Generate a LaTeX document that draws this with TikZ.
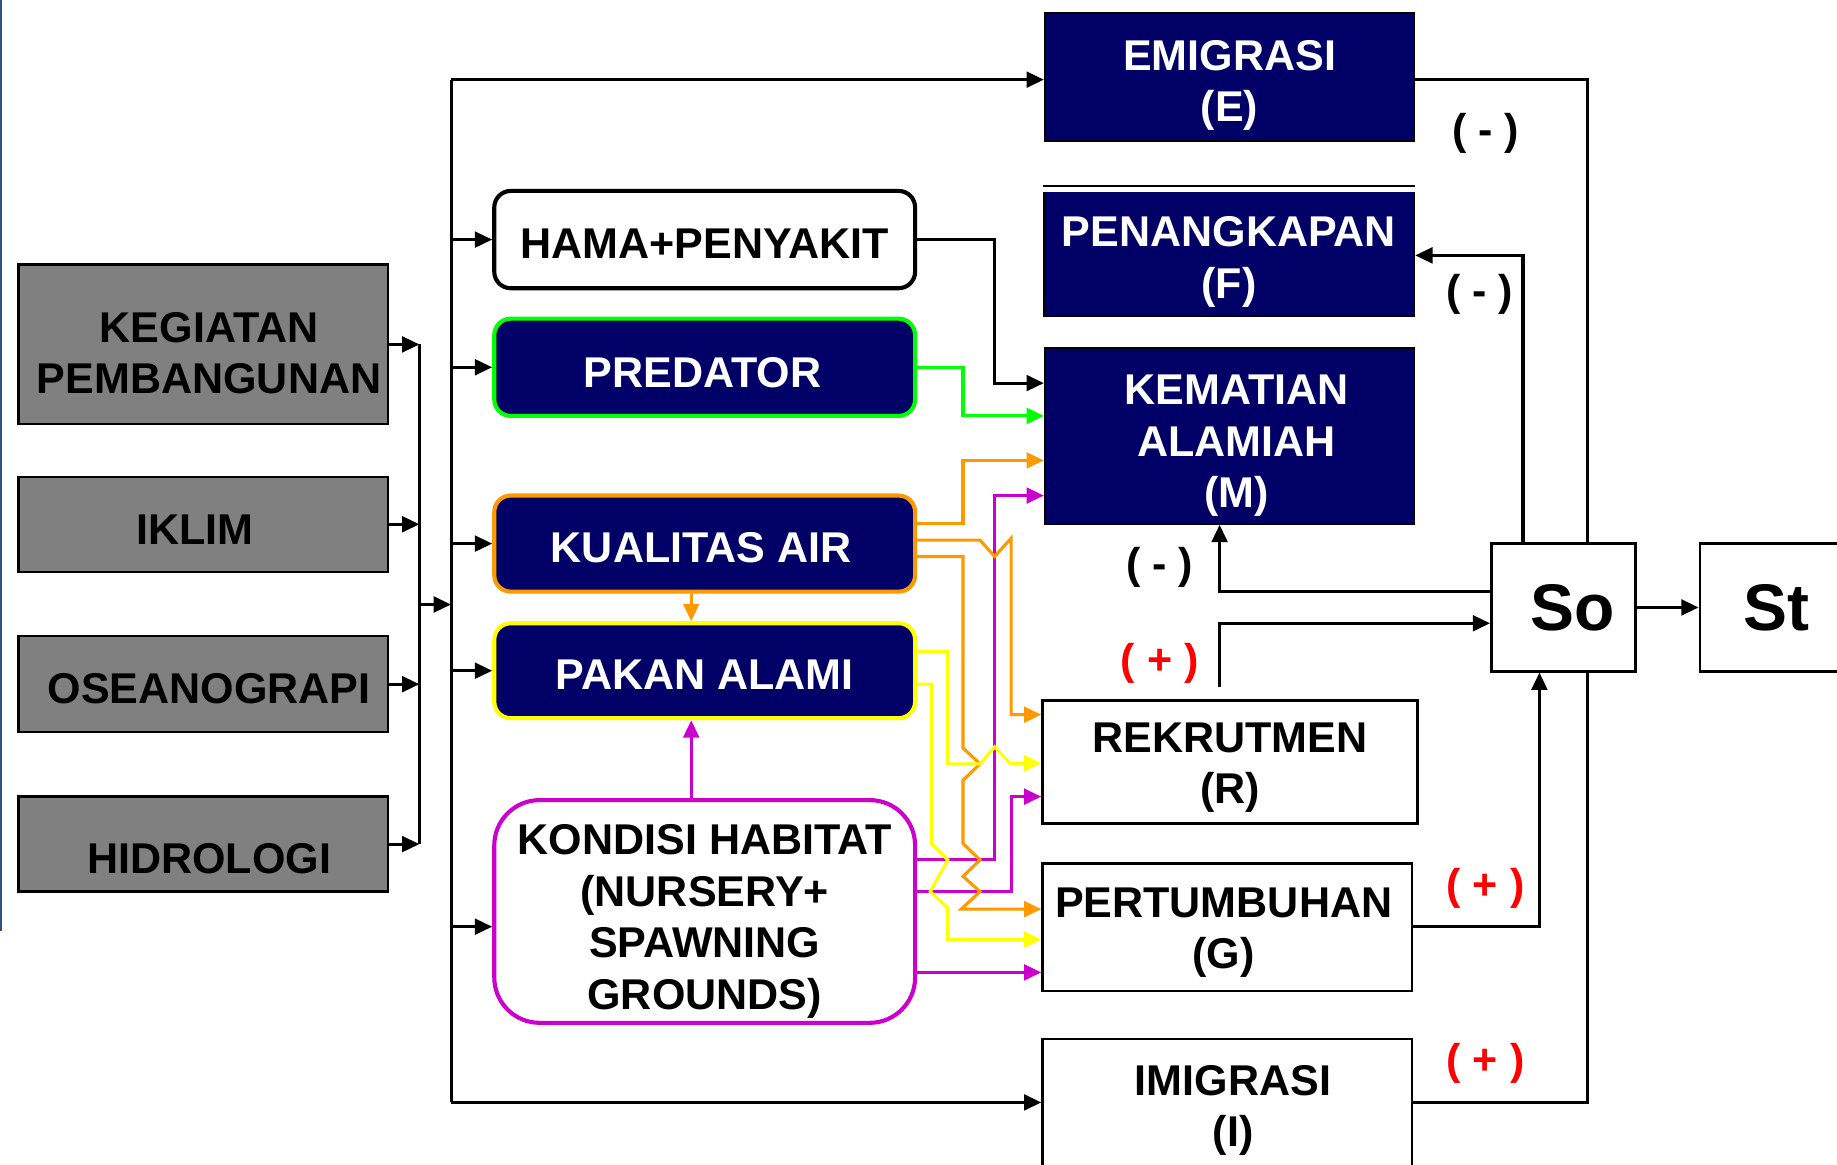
\documentclass[tikz,border=0pt]{standalone}
\usepackage{fontspec}
\setmainfont{Liberation Sans}
\usetikzlibrary{arrows.meta}
\definecolor{navy}{RGB}{0,0,102}
\definecolor{boxgray}{RGB}{128,128,128}
\definecolor{lgreen}{RGB}{0,255,0}
\definecolor{lorange}{RGB}{255,153,0}
\definecolor{lyellow}{RGB}{255,255,0}
\definecolor{lmag}{RGB}{204,0,204}
\definecolor{lred}{RGB}{255,0,0}
\definecolor{stripc}{RGB}{50,80,130}
% shift text down by #1 units (0.01cm) via a strut on the first line
\newcommand\dn[1]{\rule{0pt}{\dimexpr 7.6pt+0.569pt*#1\relax}}
% shift a centred line right (at start) / left (at end) by #1 units
\newcommand\rt[1]{\hspace*{\dimexpr 0.569pt*#1\relax}}
\begin{document}
\begin{tikzpicture}[x=0.01cm,y=-0.01cm,
  txt/.style={font=\fontsize{10.45}{12.5}\selectfont\bfseries, align=center, inner sep=0pt},
  graybox/.style={txt, draw=black, line width=0.6pt, fill=boxgray, minimum width=3.15cm},
  midbox/.style={txt, line width=1pt, rounded corners=4pt, minimum width=3.59cm},
  navybox/.style={txt, draw=black, line width=0.5pt, fill=navy, text=white},
  whitebox/.style={txt, draw=black, line width=0.6pt, fill=white},
  big/.style={font=\fontsize{16}{18}\selectfont\bfseries, inner sep=0pt, draw=black, line width=0.6pt, fill=white},
  conn/.style={line width=0.75pt},
  arr/.style={conn, -{Triangle[length=4.2pt,width=3.8pt]}},
  sign/.style={txt}
]
\useasboundingbox (0,0) rectangle (1568,994);
\fill[stripc] (0,0) rectangle (2,795);

% left gray boxes
\node[graybox, minimum height=1.36cm] (keg) at (173.5,294) {\dn{7}\rt{5}KEGIATAN\\\rt{5}PEMBANGUNAN};
\node[graybox, minimum height=0.81cm] (iklim) at (173.5,447.5) {\dn{4}IKLIM\rt{7}};
\node[graybox, minimum height=0.82cm] (osea) at (173.5,584) {\dn{3}\rt{5}OSEANOGRAPI};
\node[graybox, minimum height=0.81cm] (hidro) at (173.5,720.5) {\dn{12}\rt{5}HIDROLOGI};

% middle boxes
\node[midbox, draw=black, fill=white, minimum height=0.83cm] (hama) at (601.5,204.5) {\dn{3}HAMA+PENYAKIT};
\node[midbox, draw=lgreen, fill=navy, text=white, minimum height=0.83cm] (pred) at (601.5,313.5) {\dn{4}PREDATOR\rt{2}};
\node[midbox, draw=lorange, fill=navy, text=white, minimum height=0.82cm] (kual) at (601.5,464) {\dn{3}KUALITAS AIR\rt{3}};
\node[midbox, draw=lyellow, fill=navy, text=white, minimum height=0.81cm] (pakan) at (601.5,572.5) {\dn{3}PAKAN ALAMI};
\node[midbox, draw=lmag, fill=white, rounded corners=11pt, minimum height=1.9cm] (kond) at (601.5,778) {\dn{8}KONDISI HABITAT\\(NURSERY+\\SPAWNING\\GROUNDS)};

% right boxes
\node[navybox, minimum width=3.15cm, minimum height=1.09cm] (emi) at (1049.5,65.5) {\dn{7}EMIGRASI\\(E)};
\node[navybox, minimum width=3.16cm, minimum height=1.10cm] (pen) at (1049,215) {\dn{8}PENANGKAPAN\\(F)};
\fill[white] (pen.north west) rectangle ([yshift=-1.4pt]pen.north east);
\draw[line width=0.5pt] (pen.north west) -- (pen.north east);
\node[navybox, minimum width=3.15cm, minimum height=1.50cm] (kem) at (1049.5,372) {\dn{8}\rt{6}KEMATIAN\\\rt{6}ALAMIAH\\\rt{6}(M)};
\node[whitebox, minimum width=3.20cm, minimum height=1.05cm] (rek) at (1050,650.5) {\dn{4}REKRUTMEN\\(R)};
\node[whitebox, minimum width=3.15cm, minimum height=1.09cm] (pert) at (1047.5,791.5) {\dn{4}PERTUMBUHAN\rt{3}\\(G)\rt{3}};
\node[whitebox, minimum width=3.15cm, minimum height=1.13cm] (imi) at (1047.5,943.5) {\dn{4}\rt{5}IMIGRASI\\\rt{5}(I)};
\node[big, minimum width=1.23cm, minimum height=1.09cm] (so) at (1334.5,518.5) {\rt{8}So};
\node[big, minimum width=1.30cm, minimum height=1.09cm] (st) at (1516,518.5) {St};

% left bus
\coordinate (b1) at (358,516);
\coordinate (b2) at (385,516);
\draw[arr] (keg.east) -- (keg.east -| b1);
\draw[arr] (iklim.east) -- (iklim.east -| b1);
\draw[arr] (osea.east) -- (osea.east -| b1);
\draw[arr] (hidro.east) -- (hidro.east -| b1);
\draw[conn] (keg.east -| b1) -- (hidro.east -| b1);
\draw[arr] (b1) -- (b2);

% main bus
\coordinate (btop) at (385,68);
\coordinate (bbot) at (385,941);
\coordinate (bk) at (385,791);
\draw[conn] (btop) -- (bbot);
\draw[arr] (btop) -- (btop -| emi.west);
\draw[arr] (btop |- hama.west) -- (hama.west);
\draw[arr] (btop |- pred.west) -- (pred.west);
\draw[arr] (btop |- kual.west) -- (kual.west);
\draw[arr] (btop |- pakan.west) -- (pakan.west);
\draw[arr] (bk) -- (bk -| kond.west);
\draw[arr] (bbot) -- (bbot -| imi.west);

% internal arrows
\draw[arr, lorange] (kual.south -| 590,0) -- (pakan.north -| 590,0);
\draw[arr, lmag] (kond.north -| 590,0) -- (pakan.south -| 590,0);

% black connector hama -> kematian
\draw[arr] (hama.east) -- (849,204.5) -- (849,327) -- (kem.west |- 0,327);

% magenta
\draw[arr, lmag] (kond.east |- 0,734) -- (849,734) -- (849,423) -- (kem.west |- 0,423);
\draw[arr, lmag] (kond.east |- 0,761) -- (863,761) -- (863,680) -- (rek.west |- 0,680);
\draw[arr, lmag] (kond.east |- 0,830) -- (pert.west |- 0,830);

% green
\draw[arr, lgreen] (pred.east |- 0,314) -- (822,314) -- (822,355) -- (kem.west |- 0,355);

% orange
\draw[arr, lorange] (kual.east |- 0,447) -- (822,447) -- (822,393) -- (kem.west |- 0,393);
\draw[arr, lorange] (kual.east |- 0,461) -- (836.5,461) -- (849,475) -- (863,459.5) -- (863,610) -- (rek.west |- 0,610);
\draw[arr, lorange] (kual.east |- 0,475) -- (822,475) -- (822,638.5) -- (836.5,652) -- (822,666) -- (822,720) -- (836.5,734) -- (822,748) -- (836.5,761) -- (820.5,776) -- (pert.west |- 0,776);

% yellow
\draw[arr, lyellow] (pakan.east |- 0,556) -- (809,556) -- (809,652) -- (836.5,652) -- (849,637.5) -- (862,651.5) -- (rek.west |- 0,651.5);
\draw[arr, lyellow] (pakan.east |- 0,584) -- (795,584) -- (795,720) -- (809,734) -- (794,761) -- (809,775) -- (809,802) -- (pert.west |- 0,802);

% right side loops
\draw[conn] (emi.east |- 0,68) -- (1355,68) -- (so.north -| 1355,0);
\draw[conn] (imi.east |- 0,941) -- (1355,941) -- (so.south -| 1355,0);
\draw[arr] (so.north -| 1300,0) -- (1300,218) -- (pen.east |- 0,218);
\draw[arr] (so.west |- 0,505) -- (1041,505) -- (kem.south -| 1041,0);
\coordinate (rekout) at (1041,586);
\draw[arr] (rekout) -- (1041,532) -- (so.west |- 0,532);
\draw[arr] (pert.east |- 0,791) -- (1314,791) -- (so.south -| 1314,0);
\draw[arr] (so.east) -- (st.west);

% signs
\node[sign] (s1) at (1268,114) {( - )};
\node[sign] (s2) at (1263,251) {( - )};
\node[sign] (s3) at (990,484) {( - )};
\node[sign, text=lred] (s4) at (990,566) {( + )};
\node[sign, text=lred] (s5) at (1268,758) {( + )};
\node[sign, text=lred] (s6) at (1268,908) {( + )};
\end{tikzpicture}
\end{document}
